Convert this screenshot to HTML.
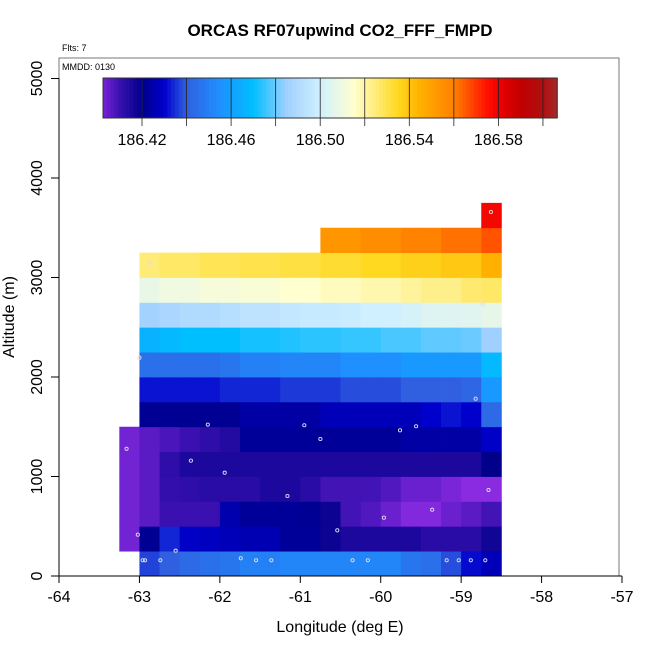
<!DOCTYPE html>
<html><head><meta charset="utf-8"><style>
body{margin:0;background:#fff}
svg{display:block;font-family:"Liberation Sans",sans-serif}
</style></head><body>
<svg id="chart" width="650" height="650" viewBox="0 0 650 650" xmlns="http://www.w3.org/2000/svg">
<rect width="650" height="650" fill="#fff"/>
<text x="340" y="36" text-anchor="middle" font-size="17" font-weight="bold">ORCAS RF07upwind CO2_FFF_FMPD</text>
<text x="62" y="51" font-size="9">Flts: 7</text>
<rect x="59" y="58" width="560" height="518" fill="none" stroke="#777" stroke-width="1"/>
<text x="62" y="70" font-size="9">MMDD: 0130</text>
<g id="cells"></g>
<g id="pts"></g>
<g id="cbar"></g>
<g id="axes"></g>
<text x="340" y="632" text-anchor="middle" font-size="16">Longitude (deg E)</text>
<text transform="translate(14,317) rotate(-90)" text-anchor="middle" font-size="16">Altitude (m)</text>
</svg>
<script>
const lonStart = -63.25;
const lonStep = 0.25;
const altStep = 250;
// rows from bottom (0-250 m) upward; 19 columns from -63.25 to -58.5; null = no data
const row0 = [null,186.437,186.440,186.443,186.445,186.447,186.450,186.450,186.452,186.452,186.452,186.452,186.452,186.452,186.447,186.445,186.438,186.431,186.427];
const row1 = [186.403,186.421,186.434,186.429,186.428,186.427,186.426,186.426,186.422,186.422,186.418,186.415,186.415,186.415,186.415,186.413,186.413,186.413,186.417];
const row2 = [186.403,186.406,186.410,186.410,186.410,186.425,186.422,186.422,186.422,186.421,186.418,186.409,186.407,186.404,186.401,186.401,186.404,186.406,186.409];
const row3 = [186.403,186.406,186.411,186.412,186.413,186.413,186.413,186.415,186.415,186.413,186.409,186.409,186.409,186.407,186.404,186.404,186.402,186.400,186.400];
const row4 = [186.403,186.406,186.412,186.415,186.415,186.415,186.415,186.415,186.415,186.415,186.415,186.415,186.415,186.415,186.415,186.415,186.415,186.415,186.420];
const row5 = [186.403,186.406,186.408,186.410,186.412,186.414,186.422,186.422,186.422,186.422,186.422,186.422,186.422,186.422,186.424,186.424,186.424,186.424,186.429];
const row6 = [null,186.421,186.421,186.421,186.421,186.421,186.424,186.424,186.424,186.424,186.427,186.427,186.427,186.427,186.427,186.430,186.432,186.430,186.443];
const row7 = [null,186.432,186.432,186.432,186.432,186.434,186.434,186.434,186.436,186.436,186.436,186.438,186.438,186.438,186.440,186.440,186.440,186.442,186.458];
const row8 = [null,186.445,186.445,186.445,186.445,186.447,186.450,186.450,186.452,186.452,186.452,186.455,186.455,186.455,186.458,186.458,186.458,186.458,186.468];
const row9 = [null,186.466,186.468,186.470,186.470,186.470,186.472,186.472,186.473,186.474,186.474,186.475,186.475,186.477,186.477,186.479,186.479,186.480,186.485];
const row10 = [null,186.486,186.488,186.490,186.490,186.492,186.494,186.494,186.496,186.497,186.497,186.498,186.500,186.500,186.502,186.504,186.504,186.505,186.507];
const row11 = [null,186.508,186.510,186.510,186.512,186.512,186.513,186.513,186.515,186.515,186.517,186.517,186.519,186.519,186.521,186.523,186.523,186.526,186.527];
const row12 = [null,186.525,186.527,186.527,186.529,186.529,186.530,186.530,186.531,186.531,186.533,186.533,186.535,186.535,186.537,186.537,186.539,186.539,186.545];
const row13 = [null,null,null,null,null,null,null,null,null,null,186.553,186.553,186.556,186.556,186.559,186.559,186.562,186.562,186.566];
const row14 = [null,null,null,null,null,null,null,null,null,null,null,null,null,null,null,null,null,null,186.578];
const rows = [row0,row1,row2,row3,row4,row5,row6,row7,row8,row9,row10,row11,row12,row13,row14];

const ptLon = [-62.15,-60.95,-60.75,-59.76,-59.56,-58.82,-63.16,-62.36,-61.94,-61.16,-58.66,-59.96,-59.36,-60.54,-63.02,-62.55,-62.96,-62.93,-62.74,-61.74,-61.55,-61.36,-60.35,-60.16,-59.18,-59.03,-58.88,-58.70,-58.63,-62.88,-58.73,-63.0];
const ptAlt = [1521,1515,1377,1464,1505,1782,1279,1159,1038,804,864,586,666,459,415,254,158,158,158,178,158,158,158,158,158,158,158,158,3658,3149,2731,2194];

const xTicks = [-64,-63,-62,-61,-60,-59,-58,-57];
const yTicks = [0,1000,2000,3000,4000,5000];
const cbTicks = [186.42,186.44,186.46,186.48,186.50,186.52,186.54,186.56,186.58,186.60];
const cbLabels = ["186.42","","186.46","","186.50","","186.54","","186.58",""];

const palV = [186.400,186.410,186.420,186.430,186.440,186.455,186.470,186.485,186.500,186.515,186.535,186.545,186.560,186.575,186.580,186.590,186.600,186.607];
const palC = ["#8a2be2","#3a10b0","#00008b","#0000cd","#3060e0","#1e90ff","#00bfff","#a0d0ff","#d0f0ff","#ffffd0","#ffd820","#ffb000","#ff8000","#ff1000","#ee0000","#c00000","#b01010","#a52a2a"];

const NS = "http://www.w3.org/2000/svg";
const X = lon => 59 + (lon + 64) * 80.43;
const Y = alt => 576 - alt * 0.0995;
const CX = v => 142 + (v - 186.42) / 0.02 * 44.55;
function hex(c){return [1,3,5].map(i=>parseInt(c.substr(i,2),16));}
function color(v){
  if(v<=palV[0]) return palC[0];
  for(let i=1;i<palV.length;i++){
    if(v<=palV[i]){
      const t=(v-palV[i-1])/(palV[i]-palV[i-1]);
      const a=hex(palC[i-1]),b=hex(palC[i]);
      return "rgb("+a.map((x,k)=>Math.round(x+(b[k]-x)*t)).join(",")+")";
    }
  }
  return palC[palC.length-1];
}
function mk(tag, attrs, parent){
  const e=document.createElementNS(NS,tag);
  for(const k in attrs) e.setAttribute(k,attrs[k]);
  parent.appendChild(e); return e;
}
const cells=document.getElementById("cells");
rows.forEach((r,ri)=>{
  r.forEach((v,ci)=>{
    if(v===null) return;
    const lon0=lonStart+ci*lonStep, a0=ri*altStep;
    const x0=X(lon0), x1=X(lon0+lonStep), y0=Y(a0+altStep), y1=Y(a0);
    const e=mk("rect",{x:x0,y:y0,width:x1-x0+0.4,height:y1-y0+0.4,fill:color(v)},cells);
    
    
  });
});
const pts=document.getElementById("pts");
ptLon.forEach((lon,i)=>{
  const e=mk("circle",{cx:X(lon),cy:Y(ptAlt[i]),r:1.6,fill:"none",stroke:"#dde",["stroke-width"]:0.9},pts);
  
  
});
// colorbar
const cb=document.getElementById("cbar");
const cbMin=186.4025, cbMax=186.6064, n=120;
for(let i=0;i<n;i++){
  const v0=cbMin+(cbMax-cbMin)*i/n, v1=cbMin+(cbMax-cbMin)*(i+1)/n;
  mk("rect",{x:CX(v0),y:78,width:CX(v1)-CX(v0)+0.5,height:40,fill:color((v0+v1)/2)},cb);
}
const cbo=mk("rect",{x:CX(cbMin),y:78,width:CX(cbMax)-CX(cbMin),height:40,fill:"none",stroke:"#333",["stroke-width"]:1},cb);


cbTicks.forEach((v,i)=>{
  const x=CX(v);
  mk("line",{x1:x,x2:x,y1:78,y2:126,stroke:"#222",["stroke-width"]:0.8},cb);
  if(cbLabels[i]){
    const t=mk("text",{x:x,y:145,["text-anchor"]:"middle",["font-size"]:16},cb);
    t.textContent=cbLabels[i];
    
    
  }
});
// axes
const ax=document.getElementById("axes");
mk("line",{x1:X(-64),x2:X(-57),y1:576,y2:576,stroke:"#000",["stroke-width"]:1},ax);
xTicks.forEach(v=>{
  const x=X(v);
  mk("line",{x1:x,x2:x,y1:576,y2:583,stroke:"#000"},ax);
  const t=mk("text",{x:x,y:602,["text-anchor"]:"middle",["font-size"]:16},ax);
  t.textContent=v;
  
  
});
mk("line",{x1:59,x2:59,y1:Y(0),y2:Y(5000),stroke:"#000"},ax);
yTicks.forEach(v=>{
  const y=Y(v);
  mk("line",{x1:51,x2:59,y1:y,y2:y,stroke:"#000"},ax);
  const t=mk("text",{transform:"translate(42,"+y+") rotate(-90)",["text-anchor"]:"middle",["font-size"]:16},ax);
  t.textContent=v;
  
  
});
</script>
</body></html>
